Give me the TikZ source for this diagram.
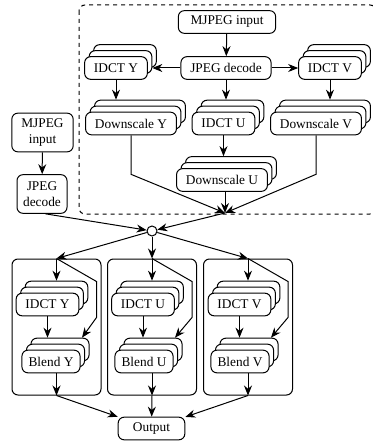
\documentclass[tikz,border=0pt]{standalone}
\usepackage{fontspec}
\setmainfont{Liberation Serif}
\usetikzlibrary{arrows.meta,calc}

\tikzset{
  blk/.style={draw, fill=white, rounded corners=4.5pt, minimum height=17pt, inner xsep=7pt, inner ysep=2pt},
  grp/.style={draw, rounded corners=4.5pt, minimum width=66.75pt, minimum height=102pt},
  arr/.style={-{Stealth[length=7.5pt,width=6pt]}},
}
% three copies, back to front
\newcommand{\stacknode}[4][]{%
  \node[blk,#1] (#2-b) at ($(#3)+(9,-12)$) {\phantom{#4}};
  \node[blk,#1] (#2-m) at ($(#3)+(4.5,-6)$) {\phantom{#4}};
  \node[blk,#1] (#2) at (#3) {#4};
}

\begin{document}
\begin{tikzpicture}[x=0.75pt, y=-0.75pt, line width=0.75pt]
    \useasboundingbox (0,0) rectangle (372,441);
    % Dashed frame
    \draw[dashed, rounded corners=4.5pt] (79,5) rectangle (376,214);
    % Top nodes
    \node[blk, minimum width=73pt] (mjin) at (227,22) {MJPEG input};
    \node[blk] (jdec) at (226,68) {JPEG decode};
    \stacknode{idcty}{116,68}{IDCT Y}
    \stacknode{idctv}{330,68}{IDCT V}
    \stacknode{dsy}{131,123.5}{Downscale Y}
    \stacknode{idctu}{223.5,123.5}{IDCT U}
    \stacknode{dsv}{316,123.5}{Downscale V}
    \stacknode{dsu}{222,180}{Downscale U}
    \coordinate (merge) at (225,213);
    % Left nodes
    \node[blk, align=center, minimum width=46pt, minimum height=29pt, inner xsep=3pt] (lmjin) at (42.5,132.5) {MJPEG\\input};
    \node[blk, align=center, minimum width=37.5pt, minimum height=29pt, inner xsep=3pt] (ljdec) at (42,194) {JPEG\\decode};
    \node[circle, draw, fill=white, minimum size=7.5pt, inner sep=0pt] (circ) at (152,231) {};
    % Groups
    \node[grp] (gy) at (56.5,327) {};
    \node[grp] (gu) at (152,327) {};
    \node[grp] (gv) at (248,327) {};
    \stacknode{iy}{47.5,304.5}{IDCT Y}
    \stacknode{iu}{143,304.5}{IDCT U}
    \stacknode{iv}{239.5,304.5}{IDCT V}
    \stacknode[inner xsep=5pt]{by}{51,361.5}{Blend Y}
    \stacknode[inner xsep=5pt]{bu}{144,361.5}{Blend U}
    \stacknode[inner xsep=5pt]{bv}{240,361.5}{Blend V}
    \node[blk, minimum width=50pt] (out) at (151.5,428.5) {Output};
    % Draw top arrows
    \draw[arr] (mjin) -- (jdec);
    \draw[arr] (jdec.west) -- (jdec.west -| idcty-m.east);
    \draw[arr] (jdec) -- (idctv);
    \draw[arr] (jdec.south) -- (jdec.south |- idctu-b.north);
    \draw[arr] (idcty.south) -- (idcty.south |- dsy-b.north);
    \draw[arr] (idctv.south) -- (idctv.south |- dsv-b.north);
    \draw[arr] (idctu.south) -- (idctu.south |- dsu-b.north);
    \draw[arr] (dsy.south) -- ++(0,39) -- (merge);
    \draw[arr] (dsv.south) -- ++(0,39) -- (merge);
    \draw[arr] (merge |- dsu.south) -- (merge);
    \draw[arr] (merge) -- (circ);
    \draw[arr] (lmjin) -- (ljdec);
    \draw[arr] (ljdec.-80) -- (circ);
    % Draw group arrows
    \draw[arr] (circ) -- (gy.north);
    \draw[arr] (circ) -- (gu.north);
    \draw[arr] (circ) -- (gv.north);
    \draw[arr] (gy.north) -- (gy.north |- iy-b.north);
    \draw[arr] (gy.north) -- ++(40,23) -- ++(0,36) -- ($(by-b.north)+(22,0)$);
    \draw[arr] (iy.south) -- (iy.south |- by-b.north);
    \draw[arr] (gy.south |- by.south) -- (gy.south);
    \draw[arr] (gu.north) -- (gu.north |- iu-b.north);
    \draw[arr] (gu.north) -- ++(40,23) -- ++(0,36) -- ($(bu-b.north)+(22,0)$);
    \draw[arr] (iu.south) -- (iu.south |- bu-b.north);
    \draw[arr] (gu.south |- bu.south) -- (gu.south);
    \draw[arr] (gv.north) -- (gv.north |- iv-b.north);
    \draw[arr] (gv.north) -- ++(40,23) -- ++(0,36) -- ($(bv-b.north)+(22,0)$);
    \draw[arr] (iv.south) -- (iv.south |- bv-b.north);
    \draw[arr] (gv.south |- bv.south) -- (gv.south);
    % Output
    \draw[arr] (gy.south) -- (out);
    \draw[arr] (gu.south) -- (out);
    \draw[arr] (gv.south) -- (out);
\end{tikzpicture}
\end{document}
